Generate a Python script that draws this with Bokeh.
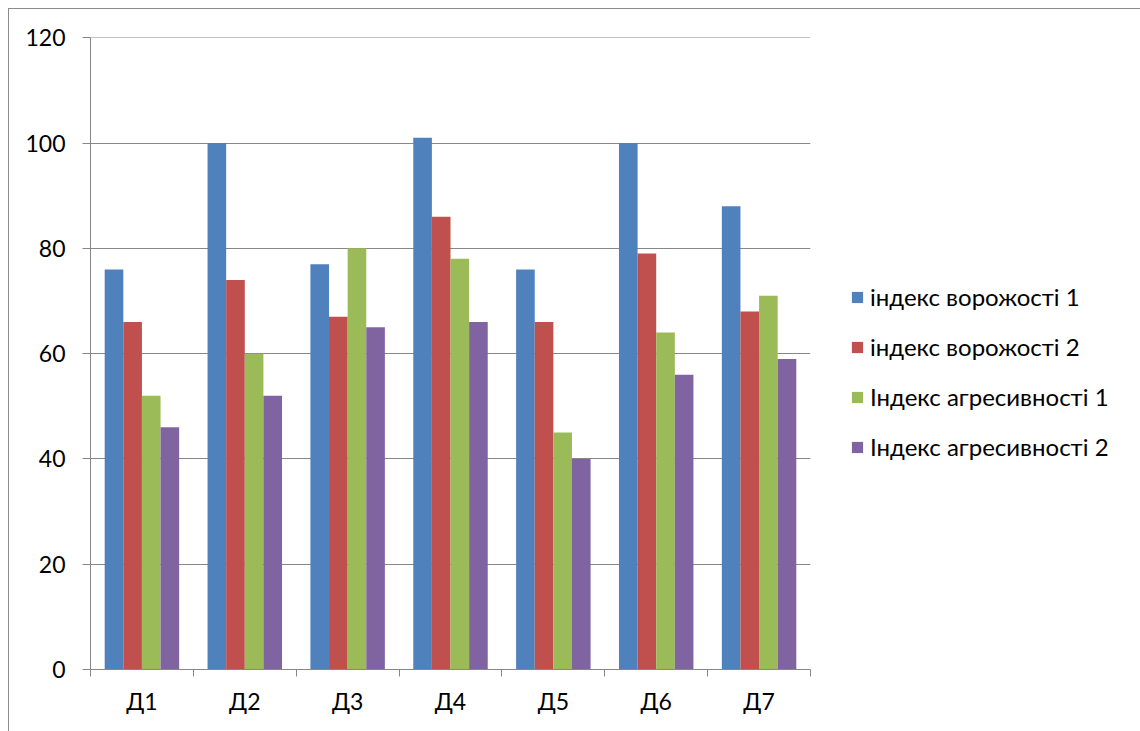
from bokeh.plotting import figure
from bokeh.models import ColumnDataSource, FixedTicker, Legend, LegendItem, Range1d
from bokeh.embed import file_html
from bokeh.resources import INLINE

categories = ["Д1", "Д2", "Д3", "Д4", "Д5", "Д6", "Д7"]
series_names = ["індекс ворожості 1", "індекс ворожості 2",
                "Індекс агресивності 1", "Індекс агресивності 2"]
vorozh1 = [76, 100, 77, 101, 76, 100, 88]
vorozh2 = [66, 74, 67, 86, 66, 79, 68]
agres1 = [52, 60, 80, 78, 45, 64, 71]
agres2 = [46, 52, 65, 66, 40, 56, 59]
colors = ["#4F81BD", "#C0504D", "#9BBB59", "#8064A2"]
y_ticks = [0, 20, 40, 60, 80, 100, 120]

FONT = "Lato"
GRAY = "#878787"

p = figure(frame_width=720, frame_height=632, output_backend="svg",
           toolbar_location=None,
           x_range=Range1d(0, len(categories)), y_range=Range1d(0, 120.05),
           min_border_left=81, min_border_top=28, min_border_right=0,
           min_border_bottom=62)
p.margin = (8, 0, 0, 8)
p.styles = {"border-left": "1.5px solid #8c8c8c", "border-top": "1.5px solid #8c8c8c"}
p.outline_line_color = None
p.background_fill_color = "white"
p.border_fill_color = "white"

bar_w = 0.181
series = [vorozh1, vorozh2, agres1, agres2]
items = []
for k, (vals, col, name) in enumerate(zip(series, colors, series_names)):
    xs = [i + 0.5 + (k - 1.5) * bar_w for i in range(len(categories))]
    src = ColumnDataSource(dict(x=xs, top=vals))
    r = p.vbar(x="x", top="top", bottom=0, width=bar_w, source=src,
               fill_color=col, line_color=None)
    items.append(LegendItem(label=name, renderers=[r]))

# y axis
p.yaxis.ticker = FixedTicker(ticks=y_ticks, minor_ticks=[])
p.yaxis.axis_line_color = GRAY
p.yaxis.major_tick_line_color = GRAY
p.yaxis.major_tick_out = 8
p.yaxis.major_tick_in = 0
p.yaxis.minor_tick_line_color = None
p.yaxis.major_label_text_font = FONT
p.yaxis.major_label_text_font_size = "23px"
p.yaxis.major_label_text_color = "black"
p.yaxis.major_label_standoff = 17

# x axis: labels at category centres, ticks at boundaries
p.xaxis.ticker = FixedTicker(ticks=[i + 0.5 for i in range(len(categories))],
                             minor_ticks=list(range(len(categories) + 1)))
p.xaxis.major_label_overrides = {i + 0.5: c for i, c in enumerate(categories)}
p.xaxis.axis_line_color = GRAY
p.xaxis.major_tick_line_color = None
p.xaxis.minor_tick_line_color = GRAY
p.xaxis.minor_tick_out = 7
p.xaxis.minor_tick_in = 0
p.xaxis.major_label_text_font = FONT
p.xaxis.major_label_text_font_size = "23px"
p.xaxis.major_label_text_color = "black"
p.xaxis.major_label_standoff = 10

p.xgrid.grid_line_color = None
p.ygrid.grid_line_color = GRAY
p.ygrid.grid_line_width = 1.2

legend = Legend(items=items, location=(40, 208), orientation="vertical",
                label_text_font=FONT, label_text_font_size="24px",
                label_text_color="black", glyph_width=14, glyph_height=14,
                label_height=28, spacing=21, label_standoff=6, padding=0,
                margin=0, border_line_color=None, background_fill_alpha=0)
p.add_layout(legend, "right")

open("out.html", "w").write(file_html(p, INLINE))
